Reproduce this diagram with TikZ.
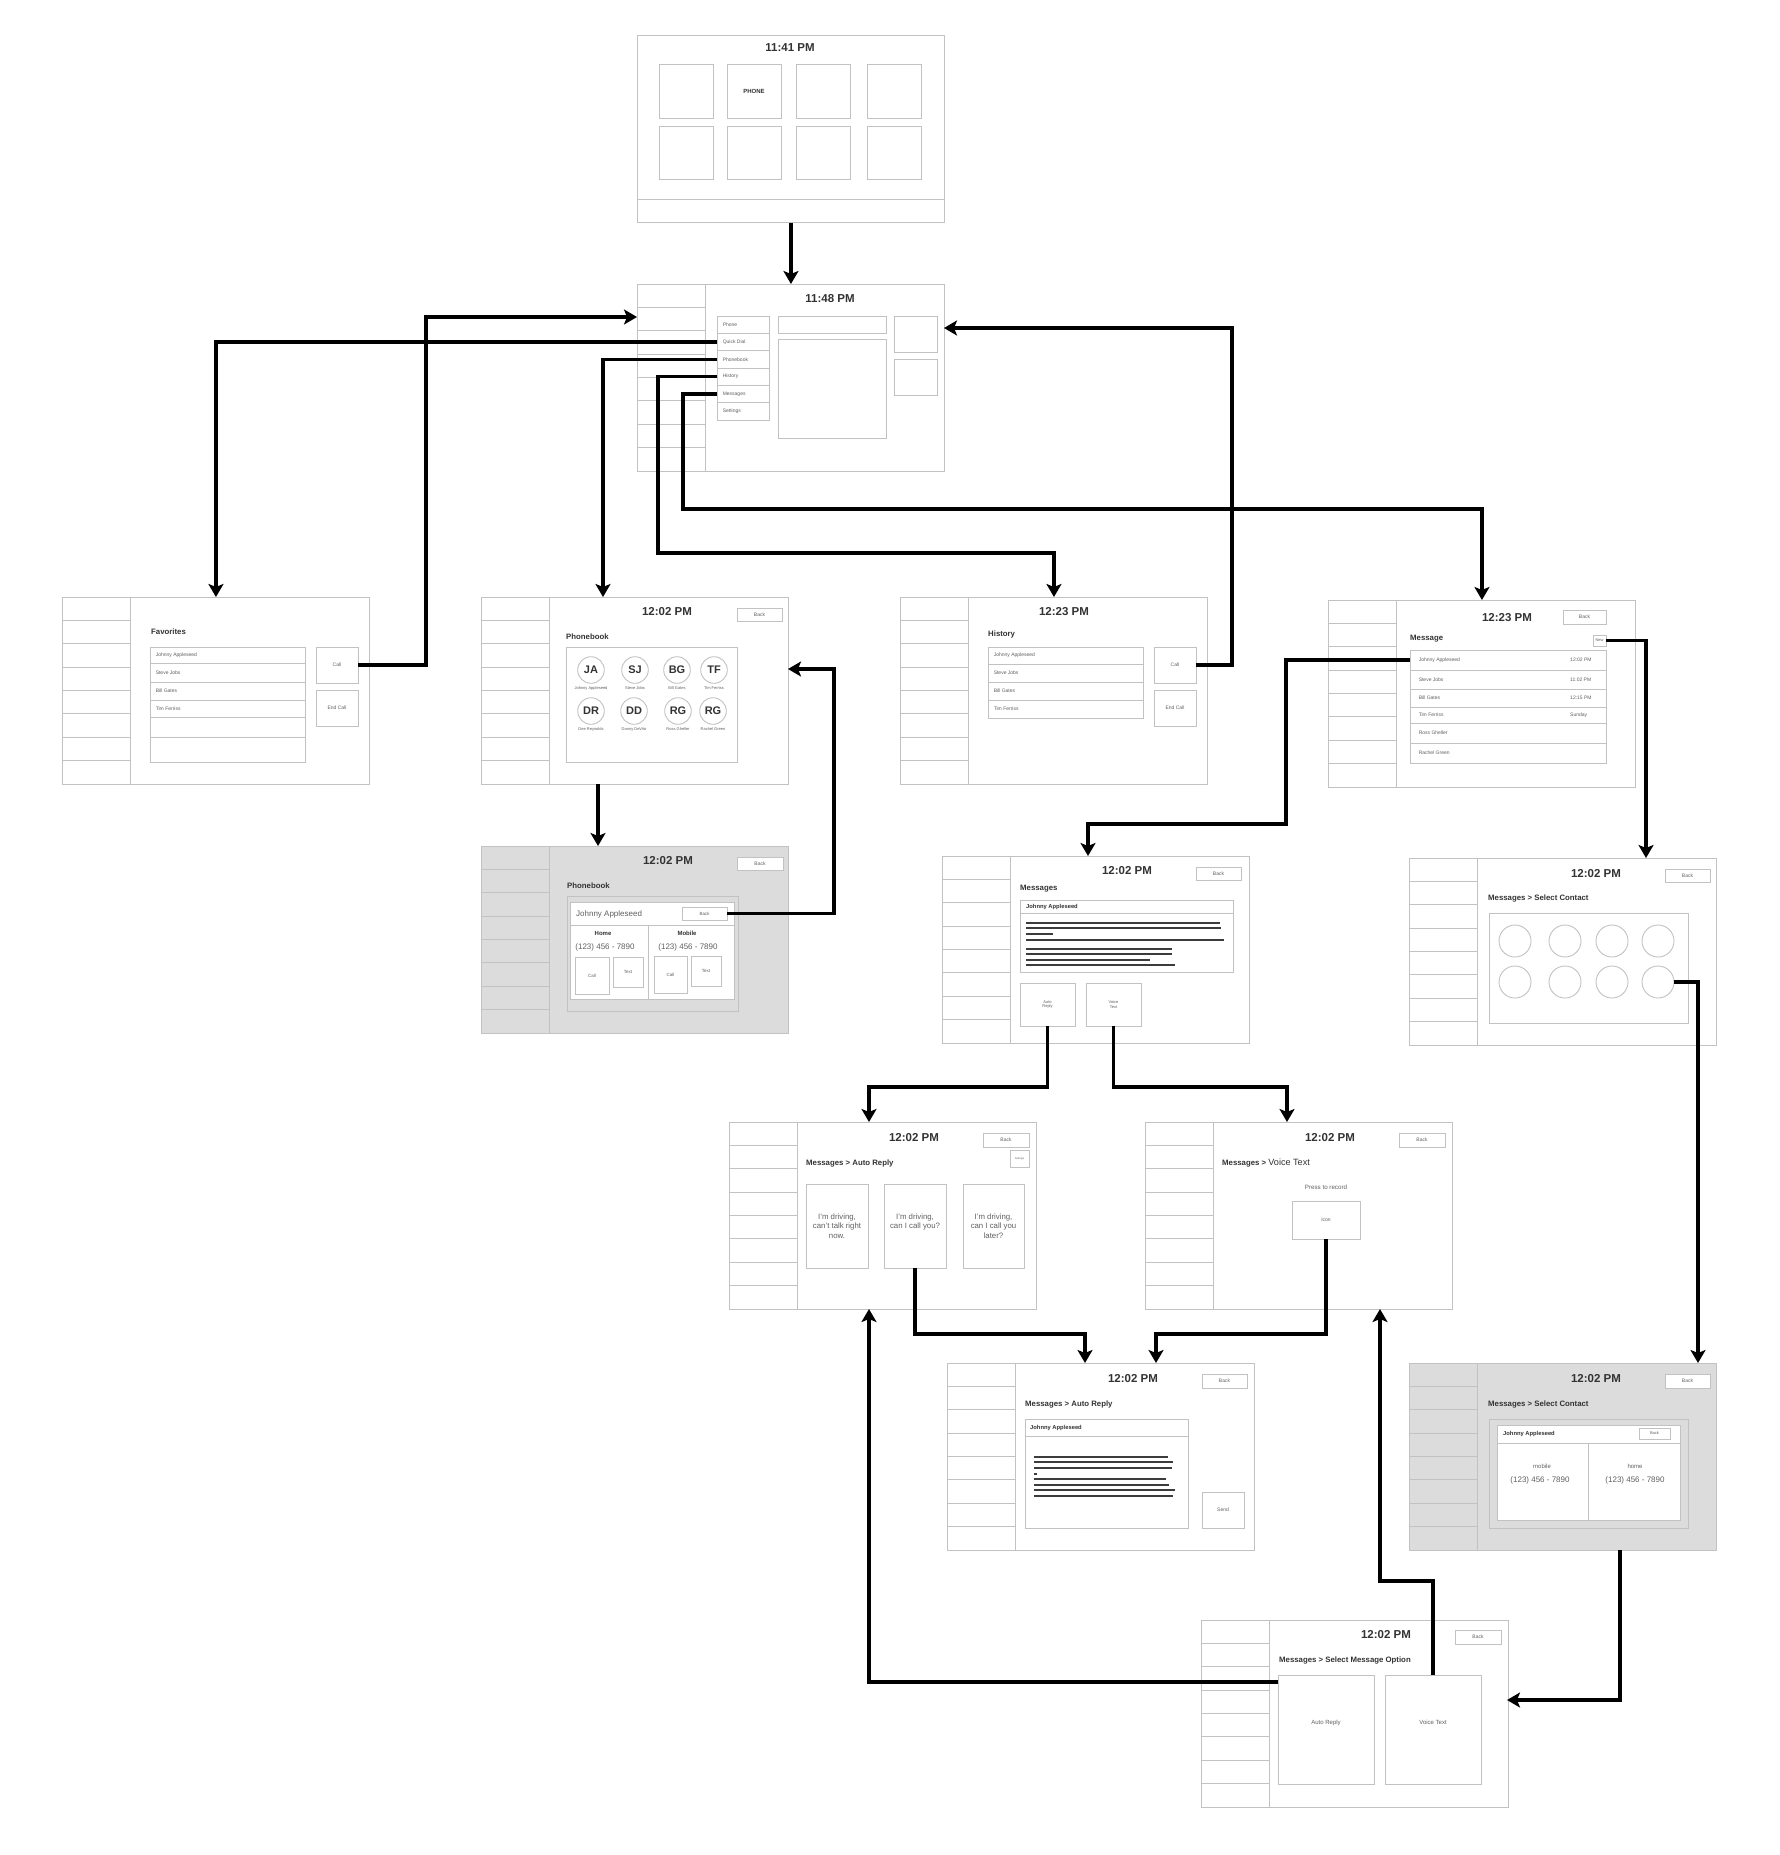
\documentclass[tikz,border=0pt]{standalone}
\usepackage{fontspec}
\setmainfont{Liberation Sans}
\usetikzlibrary{arrows.meta}

\definecolor{wfline}{HTML}{C2C2C2}
\definecolor{wfdark}{HTML}{333333}
\definecolor{wfsoft}{HTML}{606060}
\definecolor{wfgray}{HTML}{DCDCDC}
\definecolor{wfbar}{HTML}{3C3C3C}

\tikzset{
  scrn/.style={draw=wfline,line width=0.9pt,anchor=north west,minimum width=307pt,minimum height=187pt,inner sep=0pt},
  wline/.style={draw=wfline,line width=0.9pt},
  wbx/.style={draw=wfline,line width=0.9pt,fill=white,inner sep=0pt,text=wfsoft,align=center,font=\fontsize{5}{6}\selectfont},
  clk/.style={inner sep=0pt,text=wfdark,font=\bfseries\fontsize{11.5}{13}\selectfont},
  hdg/.style={anchor=west,inner sep=0pt,text=wfdark,font=\bfseries\fontsize{7.8}{9}\selectfont},
  stxt/.style={inner sep=0pt,text=wfsoft,font=\fontsize{5}{6}\selectfont},
  rtxt/.style={stxt,anchor=west},
  nametag/.style={rtxt,text=wfdark,font=\bfseries\fontsize{5.8}{7}\selectfont},
  tbar/.style={draw=wfbar,line width=2.7pt},
  avat/.style={circle,draw=wfline,line width=0.9pt,fill=white,minimum size=26.6pt,inner sep=0pt,text=wfdark,font=\bfseries\fontsize{11}{12}\selectfont},
  avname/.style={stxt,font=\fontsize{4}{5}\selectfont},
  ring/.style={circle,draw=wfline,line width=0.9pt,minimum size=32pt,inner sep=0pt},
  flow/.style={draw=black,line width=3.4pt,-{Stealth[length=13pt,width=15pt,inset=3pt]}},
}

% box from corner (x1,y1) to corner (x2,y2)
\newcommand{\wbox}[7][]{\node[wbx,minimum width={#5pt-#3pt},minimum height={#6pt-#4pt},#1] (#2) at ({(#3+#5)/2},{(#4+#6)/2}) {#7};}
% list row with left-aligned text
\newcommand{\wrow}[7][6]{\wbox{#2}{#3}{#4}{#5}{#6}{}\node[rtxt] (#2-t) at ([xshift=#1pt]#2.west) {#7};}
% tablet frame with the eight-row sidebar
\newcommand{\wfscreen}[4]{%
  \node[scrn,fill=#4] (#1) at (#2,#3) {};
  \draw[wline] ({#2+68},#3) -- ({#2+68},{#3+187});
  \foreach \k in {1,...,7}{\draw[wline] (#2,{#3+\k*23.375}) -- ({#2+68},{#3+\k*23.375});}
}

\begin{document}
\begin{tikzpicture}[x=1pt,y=-1pt]
\useasboundingbox (0,0) rectangle (1780,1855);
\fill[white] (0,0) rectangle (1780,1855);

% ---------- home ----------
\node[scrn,fill=white] (home) at (637,35) {};
\begin{scope}[shift={(637,35)}]
  \node[clk] (homeClock) at (153,13) {11:41 PM};
  \draw[wline] (0,164) -- (307,164);
  \wbox{homeT1}{22}{29}{76}{83}{}
  \wbox[font=\bfseries\fontsize{6}{7}\selectfont,text=wfdark]{homeT2}{90}{29}{144}{83}{PHONE}
  \wbox{homeT3}{159}{29}{213}{83}{}
  \wbox{homeT4}{230}{29}{284}{83}{}
  \wbox{homeT5}{22}{91}{76}{144}{}
  \wbox{homeT6}{90}{91}{144}{144}{}
  \wbox{homeT7}{159}{91}{213}{144}{}
  \wbox{homeT8}{230}{91}{284}{144}{}
\end{scope}

% ---------- phone menu ----------
\wfscreen{phone}{637}{284}{white}
\begin{scope}[shift={(637,284)}]
  \node[clk] (phoneClock) at (193,15) {11:48 PM};
  \wrow{mPhone}{80}{32}{132}{49.33}{Phone}
  \wrow{mQD}{80}{49.33}{132}{66.67}{Quick Dial}
  \wrow{mPB}{80}{66.67}{132}{84}{Phonebook}
  \wrow{mHist}{80}{84}{132}{101.33}{History}
  \wrow{mMsg}{80}{101.33}{132}{118.67}{Messages}
  \wrow{mSet}{80}{118.67}{132}{136}{Settings}
  \wbox{phBar}{141}{32}{249}{49}{}
  \wbox{phView}{141}{55}{249}{154}{}
  \wbox{phKey1}{257}{32}{300}{68}{}
  \wbox{phKey2}{257}{75}{300}{111}{}
  \coordinate (phoneInL) at (0,33);
  \coordinate (phoneInR) at (307,44);
\end{scope}

% ---------- favorites ----------
\wfscreen{fav}{62}{597}{white}
\begin{scope}[shift={(62,597)}]
  \node[hdg] (favHead) at (89,35) {Favorites};
  \wrow{fav1}{88}{50}{243}{66}{Johnny Appleseed}
  \wrow{fav2}{88}{66}{243}{85}{Steve Jobs}
  \wrow{fav3}{88}{85}{243}{103}{Bill Gates}
  \wrow{fav4}{88}{103}{243}{120}{Tim Ferriss}
  \wrow{fav5}{88}{120}{243}{140}{}
  \wrow{fav6}{88}{140}{243}{165}{}
  \wbox{favCall}{254}{50}{296}{86}{Call}
  \wbox{favEnd}{254}{93}{296}{129}{End Call}
\end{scope}

% ---------- phonebook ----------
\wfscreen{pb}{481}{597}{white}
\begin{scope}[shift={(481,597)}]
  \node[clk] (pbClock) at (186,15) {12:02 PM};
  \wbox{pbBack}{256}{11}{301}{24}{Back}
  \node[hdg] (pbHead) at (85,40) {Phonebook};
  \wbox{pbGrid}{85}{50}{256}{165}{}
  \node[avat] (pbJA) at (110,73) {JA};
  \node[avat] (pbSJ) at (154,73) {SJ};
  \node[avat] (pbBG) at (196,73) {BG};
  \node[avat] (pbTF) at (233,73) {TF};
  \node[avat] (pbDR) at (110,114) {DR};
  \node[avat] (pbDD) at (153,114) {DD};
  \node[avat] (pbRG) at (197,114) {RG};
  \node[avat] (pbRc) at (232,114) {RG};
  \node[avname] (pbJAn) at (110,91) {Johnny Appleseed};
  \node[avname] (pbSJn) at (154,91) {Steve Jobs};
  \node[avname] (pbBGn) at (196,91) {Bill Gates};
  \node[avname] (pbTFn) at (233,91) {Tim Ferriss};
  \node[avname] (pbDRn) at (110,132) {Dee Reynolds};
  \node[avname] (pbDDn) at (153,132) {Danny DeVito};
  \node[avname] (pbRGn) at (197,132) {Ross Gheller};
  \node[avname] (pbRcn) at (232,132) {Rachel Green};
  \coordinate (pbIn) at (122,0);
  \coordinate (pbOut) at (117,187);
  \coordinate (pbInR) at (307,72);
\end{scope}

% ---------- contact card ----------
\wfscreen{pbd}{481}{846}{wfgray}
\begin{scope}[shift={(481,846)}]
  \node[clk] (pdClock) at (187,15) {12:02 PM};
  \wbox{pdTopBack}{256}{11}{302}{24}{Back}
  \node[hdg] (pdHead) at (86,40) {Phonebook};
  \wbox[fill=wfgray]{pdFrame}{86}{50}{257}{165}{}
  \wbox{pdCard}{89}{56}{253}{153}{}
  \draw[wline] (89,79) -- (253,79) (167,79) -- (167,153);
  \node[rtxt,font=\fontsize{8}{9}\selectfont] (pdName) at (95,68) {Johnny Appleseed};
  \wbox[font=\fontsize{4.5}{5}\selectfont]{pdBack}{201}{61}{246}{74}{Back}
  \node[stxt,text=wfdark,font=\bfseries\fontsize{6}{7}\selectfont] (pdHome) at (122,87) {Home};
  \node[stxt,text=wfdark,font=\bfseries\fontsize{6}{7}\selectfont] (pdMobile) at (206,87) {Mobile};
  \node[stxt,font=\fontsize{8}{9}\selectfont] (pdHomeNo) at (124,101) {(123) 456 - 7890};
  \node[stxt,font=\fontsize{8}{9}\selectfont] (pdMobNo) at (207,101) {(123) 456 - 7890};
  \wbox[font=\fontsize{4.5}{5}\selectfont]{pdCall1}{94}{111}{128}{148}{Call}
  \wbox[font=\fontsize{4.5}{5}\selectfont]{pdText1}{132}{111}{162}{141}{Text}
  \wbox[font=\fontsize{4.5}{5}\selectfont]{pdCall2}{173}{110}{206}{147}{Call}
  \wbox[font=\fontsize{4.5}{5}\selectfont]{pdText2}{210}{110}{240}{140}{Text}
  \coordinate (pdIn) at (117,0);
\end{scope}

% ---------- history ----------
\wfscreen{hist}{900}{597}{white}
\begin{scope}[shift={(900,597)}]
  \node[clk] (histClock) at (164,15) {12:23 PM};
  \node[hdg] (histHead) at (88,37) {History};
  \wrow{hist1}{88}{50}{243}{67}{Johnny Appleseed}
  \wrow{hist2}{88}{67}{243}{85}{Steve Jobs}
  \wrow{hist3}{88}{85}{243}{103}{Bill Gates}
  \wrow{hist4}{88}{103}{243}{121}{Tim Ferriss}
  \wbox{histCall}{254}{50}{296}{86}{Call}
  \wbox{histEnd}{254}{93}{296}{129}{End Call}
\end{scope}

% ---------- message list ----------
\wfscreen{msg}{1328}{600}{white}
\begin{scope}[shift={(1328,600)}]
  \node[clk] (msgClock) at (179,18) {12:23 PM};
  \wbox{msgBack}{235}{10}{278}{24}{Back}
  \node[hdg] (msgHead) at (82,39) {Message};
  \wbox[font=\fontsize{4}{5}\selectfont]{mNew}{265}{35}{278}{46}{New}
  \wrow[9]{mJA}{82}{50}{278}{70}{Johnny Appleseed}
  \wrow[9]{mSJ}{82}{70}{278}{89}{Steve Jobs}
  \wrow[9]{mBG}{82}{89}{278}{107}{Bill Gates}
  \wrow[9]{mTF}{82}{107}{278}{123}{Tim Ferriss}
  \wrow[9]{mRG}{82}{123}{278}{143}{Ross Gheller}
  \wrow[9]{mRc}{82}{143}{278}{163}{Rachel Green}
  \node[rtxt] (mJAtime) at (242,60) {12:02 PM};
  \node[rtxt] (mSJtime) at (242,79.5) {11:02 PM};
  \node[rtxt] (mBGtime) at (242,98) {12:15 PM};
  \node[rtxt] (mTFtime) at (242,115) {Sunday};
\end{scope}

% ---------- conversation ----------
\wfscreen{msgs}{942}{856}{white}
\begin{scope}[shift={(942,856)}]
  \node[clk] (msClock) at (185,15) {12:02 PM};
  \wbox{msBack}{254}{11}{299}{24}{Back}
  \node[hdg] (msHead) at (78,33) {Messages};
  \wbox{msBox}{78}{44}{291}{116}{}
  \draw[wline] (78,57) -- (291,57);
  \node[nametag] (msName) at (84,51) {Johnny Appleseed};
  \foreach \y/\e in {67/278,72/279,78/111,84/282,93/230,98/230,104/208,109/233}
    \draw[tbar] (84,\y) -- (\e,\y);
  \wbox[font=\fontsize{4}{4.8}\selectfont]{msAuto}{78}{127}{133}{170}{Auto\\Reply}
  \wbox[font=\fontsize{4}{4.8}\selectfont]{msVoice}{144}{127}{199}{170}{Voice\\Text}
  \coordinate (msIn) at (146,0);
\end{scope}

% ---------- select contact ----------
\wfscreen{selc}{1409}{858}{white}
\begin{scope}[shift={(1409,858)}]
  \node[clk] (scClock) at (187,16) {12:02 PM};
  \wbox{scBack}{256}{11}{301}{24}{Back}
  \node[hdg] (scHead) at (79,40) {Messages > Select Contact};
  \wbox{scGrid}{80}{55}{279}{165}{}
  \node[ring] (scC1) at (106,83) {};
  \node[ring] (scC2) at (156,83) {};
  \node[ring] (scC3) at (203,83) {};
  \node[ring] (scC4) at (249,83) {};
  \node[ring] (scC5) at (106,124) {};
  \node[ring] (scC6) at (156,124) {};
  \node[ring] (scC7) at (203,124) {};
  \node[ring] (scC8) at (249,124) {};
  \coordinate (scIn) at (237,0);
\end{scope}

% ---------- auto reply ----------
\wfscreen{auto}{729}{1122}{white}
\begin{scope}[shift={(729,1122)}]
  \node[clk] (arClock) at (185,16) {12:02 PM};
  \wbox{arBack}{254}{11}{300}{25}{Back}
  \wbox[font=\fontsize{2.6}{3}\selectfont]{arSet}{281}{28}{300}{45}{Settings}
  \node[hdg] (arHead) at (77,41) {Messages > Auto Reply};
  \wbox[font=\fontsize{7.8}{9.2}\selectfont]{arC1}{77}{62}{139}{146}{I'm driving,\\can't talk right\\now.}
  \wbox[font=\fontsize{7.8}{9.2}\selectfont]{arC2}{155}{62}{217}{146}{I'm driving,\\can I call you?\\\mbox{}}
  \wbox[font=\fontsize{7.8}{9.2}\selectfont]{arC3}{234}{62}{295}{146}{I'm driving,\\can I call you\\later?}
  \coordinate (arIn) at (140,0);
  \coordinate (arInB) at (140,187);
\end{scope}

% ---------- voice text ----------
\wfscreen{voice}{1145}{1122}{white}
\begin{scope}[shift={(1145,1122)}]
  \node[clk] (vtClock) at (185,16) {12:02 PM};
  \wbox{vtBack}{254}{11}{300}{25}{Back}
  \node[hdg] (vtHead) at (77,41) {Messages > {\mdseries\fontsize{9.1}{10}\selectfont Voice Text}};
  \node[stxt,font=\fontsize{6.2}{7}\selectfont] (vtPrompt) at (181,65) {Press to record};
  \wbox{vtIcon}{147}{79}{215}{117}{Icon}
  \coordinate (vtIn) at (142,0);
  \coordinate (vtInB) at (235,187);
\end{scope}

% ---------- auto reply, compose ----------
\wfscreen{send}{947}{1363}{white}
\begin{scope}[shift={(947,1363)}]
  \node[clk] (sdClock) at (186,16) {12:02 PM};
  \wbox{sdBack}{255}{11}{300}{25}{Back}
  \node[hdg] (sdHead) at (78,41) {Messages > Auto Reply};
  \wbox{sdBox}{78}{56}{241}{165}{}
  \draw[wline] (78,73) -- (241,73);
  \node[nametag] (sdName) at (83,65) {Johnny Appleseed};
  \foreach \y/\e in {94/221,99/226,105/225,111/90,116/219,122/222,127/228,133/226}
    \draw[tbar] (87,\y) -- (\e,\y);
  \wbox{sdSend}{255}{129}{297}{165}{Send}
  \coordinate (sdInL) at (138,0);
  \coordinate (sdInR) at (209,0);
\end{scope}

% ---------- contact numbers ----------
\wfscreen{selcd}{1409}{1363}{wfgray}
\begin{scope}[shift={(1409,1363)}]
  \node[clk] (scdClock) at (187,16) {12:02 PM};
  \wbox{scdTopBack}{256}{11}{301}{25}{Back}
  \node[hdg] (scdHead) at (79,41) {Messages > Select Contact};
  \wbox[fill=wfgray]{scdFrame}{80}{56}{279}{165}{}
  \wbox{scdCard}{88}{62}{271}{157}{}
  \draw[wline] (88,80) -- (271,80) (179,80) -- (179,157);
  \node[nametag] (scdName) at (94,71) {Johnny Appleseed};
  \wbox[font=\fontsize{4}{5}\selectfont]{scdBack}{230}{65}{261}{76}{Back}
  \node[stxt,font=\fontsize{6}{7}\selectfont] (scdMob) at (133,103) {mobile};
  \node[stxt,font=\fontsize{8}{9}\selectfont] (scdMobNo) at (131,117) {(123) 456 - 7890};
  \node[stxt,font=\fontsize{6}{7}\selectfont] (scdHome) at (226,103) {home};
  \node[stxt,font=\fontsize{8}{9}\selectfont] (scdHomeNo) at (226,117) {(123) 456 - 7890};
  \coordinate (scdIn) at (289,0);
  \coordinate (scdOut) at (211,187);
\end{scope}

% ---------- message option ----------
\wfscreen{opt}{1201}{1620}{white}
\begin{scope}[shift={(1201,1620)}]
  \node[clk] (opClock) at (185,15) {12:02 PM};
  \wbox{opBack}{254}{10}{300}{24}{Back}
  \node[hdg] (opHead) at (78,40) {Messages > Select Message Option};
  \wbox[font=\fontsize{6}{7}\selectfont]{opAR}{77}{55}{173}{164}{\raisebox{5pt}[0pt][0pt]{Auto Reply}}
  \wbox[font=\fontsize{6}{7}\selectfont]{opVT}{184}{55}{280}{164}{\raisebox{5pt}[0pt][0pt]{Voice Text}}
  \coordinate (opInR) at (306,80);
  \coordinate (opAROut) at (77,62);
  \coordinate (opVTOut) at (232,55);
\end{scope}

% ---------- bend points of the flow lines ----------
\coordinate (jCall) at (426,317);
\coordinate (jHist) at (658,553);
\coordinate (jMsg) at (683,509);
\coordinate (jHCall) at (1232,328);
\coordinate (jBack) at (834,669);
\coordinate (jJA) at (1286,824);
\coordinate (jAR) at (869,1087);
\coordinate (jVT) at (1287,1087);
\coordinate (jC2) at (1085,1334);
\coordinate (jIcon) at (1156,1334);
\coordinate (jOV) at (1380,1581);

% ---------- flow ----------
\draw[flow] (home.south) -- (phone.north);
\draw[flow] (mQD.west) -| (fav.north);
\draw[flow] (favCall.east) -| (jCall) -- (phoneInL);
\draw[flow] (mPB.west) -| (pbIn);
\draw[flow] (mHist.west) -| (jHist) -| (hist.north);
\draw[flow] (mMsg.west) -| (jMsg) -| (msg.north);
\draw[flow] (histCall.east) -| (jHCall) -- (phoneInR);
\draw[flow] (pbOut) -- (pdIn);
\draw[flow] (pdBack.east) -| (jBack) -- (pbInR);
\draw[flow] (mJA.west) -| (jJA) -| (msIn);
\draw[flow] (mNew.east) -| (scIn);
\draw[flow] (msAuto.south) |- (jAR) -- (arIn);
\draw[flow] (msVoice.south) |- (jVT) -- (vtIn);
\draw[flow] (arC2.south) |- (jC2) -- (sdInL);
\draw[flow] (vtIcon.south) |- (jIcon) -- (sdInR);
\draw[flow] (scC8.east) -| (scdIn);
\draw[flow] (scdOut) |- (opInR);
\draw[flow] (opAROut) -| (arInB);
\draw[flow] (opVTOut) |- (jOV) -- (vtInB);
\end{tikzpicture}
\end{document}
